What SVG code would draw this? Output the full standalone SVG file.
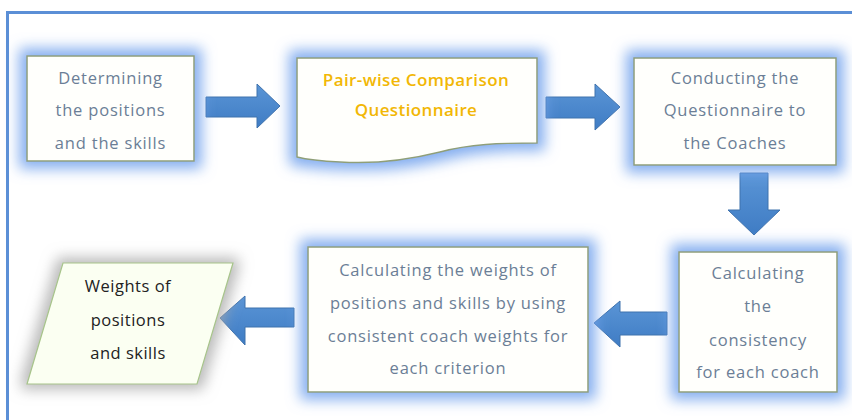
<svg xmlns="http://www.w3.org/2000/svg" width="852" height="420" viewBox="0 0 852 420">
<style>
.box{fill:#fffffc;stroke:#8f9f78;stroke-width:1.5}
.t{font-family:"Open Sans","Liberation Sans",sans-serif;font-size:16.5px;letter-spacing:0.8px;fill:#6b7e96;text-anchor:middle}
.y{font-family:"Open Sans","Liberation Sans",sans-serif;font-size:17px;letter-spacing:0.4px;font-weight:600;fill:#f2b705;text-anchor:middle}
.k{font-family:"Open Sans","Liberation Sans",sans-serif;font-size:16.5px;letter-spacing:0.5px;font-weight:500;fill:#222;text-anchor:middle}
.arr{fill:url(#ag);stroke:#3f72ad;stroke-width:1}
</style>
<defs>
<filter id="glow" x="-30%" y="-30%" width="160%" height="160%">
<feMorphology in="SourceAlpha" operator="dilate" radius="7" result="d"/>
<feGaussianBlur in="d" stdDeviation="7" result="b"/>
<feFlood flood-color="#78a6ee" flood-opacity="0.9"/>
<feComposite in2="b" operator="in" result="g"/>
<feMerge><feMergeNode in="g"/><feMergeNode in="SourceGraphic"/></feMerge>
</filter>
<filter id="gray" x="-30%" y="-30%" width="160%" height="160%">
<feMorphology in="SourceAlpha" operator="dilate" radius="5" result="d"/>
<feGaussianBlur in="d" stdDeviation="7" result="b"/>
<feFlood flood-color="#a9a9a9" flood-opacity="0.8"/>
<feComposite in2="b" operator="in" result="g"/>
<feMerge><feMergeNode in="g"/><feMergeNode in="SourceGraphic"/></feMerge>
</filter>
<linearGradient id="ag" x1="0" y1="0" x2="0" y2="1">
<stop offset="0" stop-color="#5a95d6"/>
<stop offset="1" stop-color="#3f7cc4"/>
</linearGradient>
</defs>
<rect width="852" height="420" fill="#ffffff"/>
<path d="M7.5,420 V12.5 H852" fill="none" stroke="#5b8fd6" stroke-width="3"/>

<g id="connectors">
<path class="arr" d="M206,97 H257 V84 L280,106 L257,128 V117 H206 Z"/>
<path class="arr" d="M546,97 H595 V84 L620,107 L595,130 V118 H546 Z"/>
<path class="arr" d="M740,173 H768 V210 H780 L754,235 L728,210 H740 Z"/>
<path class="arr" d="M667,312 H620 V301 L594,323 L620,347 V335 H667 Z"/>
<path class="arr" d="M294,308 H245 V296 L220,318 L245,345 V327 H294 Z"/>
</g>

<g id="n1">
<rect class="box" x="27" y="56" width="167" height="105" filter="url(#glow)"/>
<text class="t" x="110.5" y="84">Determining</text>
<text class="t" x="110.5" y="116">the positions</text>
<text class="t" x="110.5" y="149">and the skills</text>
</g>

<g id="n2">
<path class="box" d="M297,58 H537 V143 C500,143 470,144 440,152 C400,162 370,164 340,162 C320,161 305,159 297,157 Z" filter="url(#glow)"/>
<text class="y" x="416" y="86">Pair-wise Comparison</text>
<text class="y" x="416" y="116">Questionnaire</text>
</g>

<g id="n3">
<rect class="box" x="634" y="58" width="202" height="107" filter="url(#glow)"/>
<text class="t" x="735" y="84">Conducting the</text>
<text class="t" x="735" y="116">Questionnaire to</text>
<text class="t" x="735" y="149">the Coaches</text>
</g>

<g id="n4">
<rect class="box" x="679" y="252" width="158" height="140" filter="url(#glow)"/>
<text class="t" x="758" y="279">Calculating</text>
<text class="t" x="758" y="312">the</text>
<text class="t" x="758" y="346">consistency</text>
<text class="t" x="758" y="378">for each coach</text>
</g>

<g id="n5">
<rect class="box" x="308" y="247" width="280" height="145" filter="url(#glow)"/>
<text class="t" x="448" y="276">Calculating the weights of</text>
<text class="t" x="448" y="309">positions and skills by using</text>
<text class="t" x="448" y="342">consistent coach weights for</text>
<text class="t" x="448" y="374">each criterion</text>
</g>

<g id="n6">
<path d="M63,263 H233 L197,384 H27 Z" fill="#fbfff2" stroke="#a7c48a" stroke-width="1.2" filter="url(#gray)"/>
<text class="k" x="128" y="292">Weights of</text>
<text class="k" x="128" y="326">positions</text>
<text class="k" x="128" y="359">and skills</text>
</g>
</svg>
